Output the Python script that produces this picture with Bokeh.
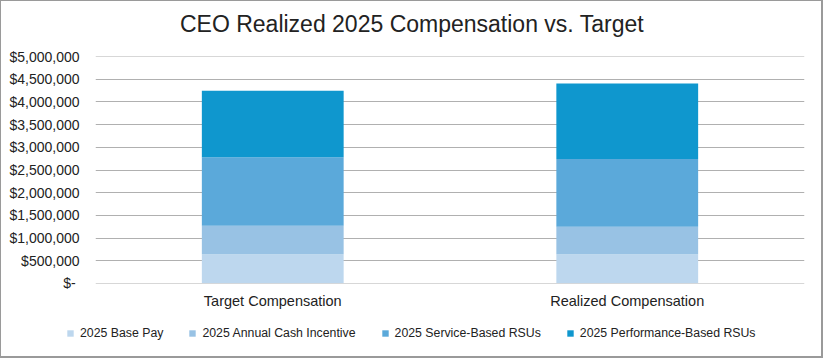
from bokeh.plotting import figure
from bokeh.layouts import column
from bokeh.models import FactorRange, Range1d, FixedTicker, Legend, LegendItem, Label
from bokeh.embed import file_html
from bokeh.resources import INLINE

categories = ["Target Compensation", "Realized Compensation"]
base_pay = [640000, 640000]
annual_cash_incentive = [630000, 610000]
service_rsus = [1510000, 1490000]
performance_rsus = [1470000, 1670000]
series_keys = ["base_pay", "annual_cash_incentive", "service_rsus", "performance_rsus"]
series_labels = ["2025 Base Pay", "2025 Annual Cash Incentive",
                 "2025 Service-Based RSUs", "2025 Performance-Based RSUs"]
series_colors = ["#BDD7EE", "#98C2E4", "#5BA9DA", "#0F97CE"]
tick_values = [0, 500000, 1000000, 1500000, 2000000, 2500000,
               3000000, 3500000, 4000000, 4500000, 5000000]
tick_labels = ["$-\u00a0", "$500,000", "$1,000,000", "$1,500,000", "$2,000,000",
               "$2,500,000", "$3,000,000", "$3,500,000", "$4,000,000",
               "$4,500,000", "$5,000,000"]
title_text = "CEO Realized 2025 Compensation vs. Target"

FONT = "Liberation Sans"
TEXT = "#222222"
W = 823


def bare(fig):
    fig.outline_line_color = None
    fig.background_fill_color = "white"
    fig.border_fill_color = "white"
    fig.xgrid.grid_line_color = None
    fig.ygrid.grid_line_color = None
    try:
        fig.frame_align = False
    except Exception:
        pass
    return fig


data = dict(categories=categories, base_pay=base_pay,
            annual_cash_incentive=annual_cash_incentive,
            service_rsus=service_rsus, performance_rsus=performance_rsus)

# ---- title strip ----
pt = bare(figure(width=W, height=44, output_backend="svg", toolbar_location=None,
                 x_range=Range1d(0, W), y_range=Range1d(0, 44),
                 x_axis_type=None, y_axis_type=None,
                 min_border_left=0, min_border_right=0, min_border_top=0, min_border_bottom=0))
pt.add_layout(Label(x=W / 2, y=21, text=title_text, text_align="center",
                    text_baseline="middle", text_font=FONT, text_font_size="23px",
                    text_color=TEXT))

# ---- main chart ----
p = figure(width=W, height=276, output_backend="svg", toolbar_location=None,
           x_range=FactorRange(*categories, range_padding=0),
           y_range=Range1d(-3000, 5003000),
           min_border_left=95, min_border_right=19, min_border_top=12,
           min_border_bottom=37)
bare(p)

renderers = p.vbar_stack(series_keys, x="categories", width=0.4, source=data,
                         color=series_colors, line_color=None)

p.ygrid.grid_line_color = "#B0B0B0"
p.ygrid.grid_line_width = 1

p.yaxis.ticker = FixedTicker(ticks=tick_values)
p.yaxis.major_label_overrides = {v: l for v, l in zip(tick_values, tick_labels)}
for ax in (p.xaxis, p.yaxis):
    ax.axis_line_color = None
    ax.major_tick_line_color = None
    ax.minor_tick_line_color = None
    ax.major_tick_in = 0
    ax.major_tick_out = 0
    ax.major_label_text_font = FONT
    ax.major_label_text_color = TEXT
p.yaxis.major_label_text_font_size = "14px"
p.yaxis.major_label_standoff = 16
p.xaxis.major_label_text_font_size = "14.5px"
p.xaxis.major_label_standoff = 9

# ---- legend strip (zero-width bars outside its range; only the legend shows) ----
pl = bare(figure(width=W, height=38, output_backend="svg", toolbar_location=None,
                 x_range=FactorRange(*categories), y_range=Range1d(-2, -1),
                 x_axis_type=None, y_axis_type=None,
                 min_border_left=0, min_border_right=0, min_border_top=0, min_border_bottom=0))
legend_renderers = pl.vbar_stack(series_keys, x="categories", width=0, source=data,
                                 color=series_colors, line_color=None)
legend = Legend(items=[LegendItem(label=l, renderers=[r])
                       for l, r in zip(series_labels, legend_renderers)],
                orientation="horizontal", location=(66, 18),
                glyph_width=8, glyph_height=8, label_standoff=6, spacing=25,
                padding=0, margin=0, label_height=8,
                label_text_font=FONT, label_text_font_size="12.3px",
                label_text_color=TEXT, background_fill_alpha=0,
                border_line_color=None)
pl.add_layout(legend, "center")

frame_css = """
:host { position: relative; }
:host::after {
  content: ""; position: absolute; left: 0; top: 0; right: 0; bottom: 0;
  box-sizing: border-box; border: 1px solid #9a9a9a;
  border-right-width: 2px; border-bottom-width: 2px;
  pointer-events: none; z-index: 100;
}
"""
layout = column(pt, p, pl, spacing=0, stylesheets=[frame_css])
open("out.html", "w").write(file_html(layout, INLINE))
